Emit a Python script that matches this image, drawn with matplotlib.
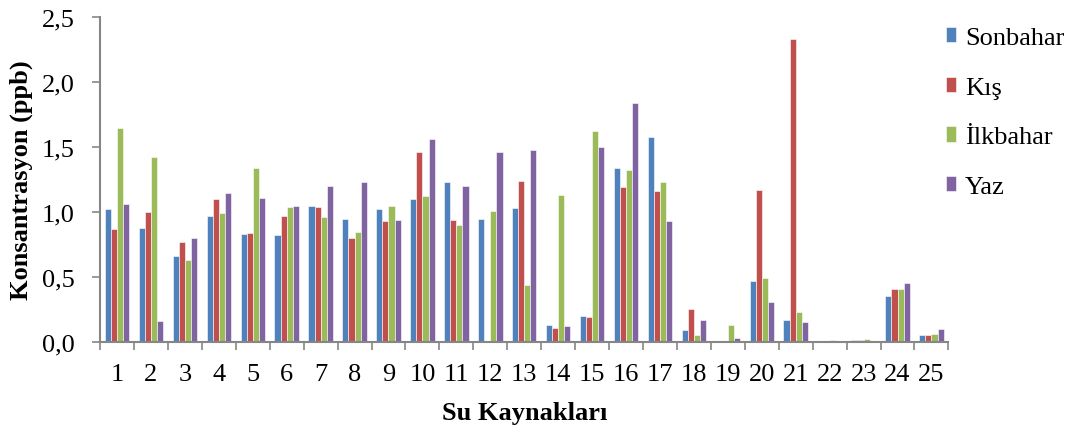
import numpy as np
import matplotlib.pyplot as plt
from matplotlib.ticker import FuncFormatter, FixedLocator

plt.rcParams['font.family'] = ['Liberation Serif', 'DejaVu Serif']

sources = [str(i) for i in range(1, 26)]
seasons = ["Sonbahar", "Kış", "İlkbahar", "Yaz"]
colors = ["#4F81BD", "#C0504D", "#9BBB59", "#8064A2"]

sonbahar = [1.02, 0.88, 0.66, 0.97, 0.83, 0.82, 1.05, 0.95, 1.02, 1.10, 1.23, 0.95, 1.03,
            0.13, 0.20, 1.34, 1.58, 0.09, 0.005, 0.47, 0.17, 0.0, 0.015, 0.35, 0.05]
kis = [0.87, 1.00, 0.77, 1.10, 0.84, 0.97, 1.04, 0.80, 0.93, 1.46, 0.94, 0.0, 1.24,
       0.11, 0.19, 1.19, 1.16, 0.25, 0.0, 1.17, 2.33, 0.008, 0.015, 0.41, 0.056]
ilkbahar = [1.65, 1.42, 0.63, 0.99, 1.34, 1.04, 0.96, 0.85, 1.05, 1.12, 0.90, 1.01, 0.44,
            1.13, 1.62, 1.32, 1.23, 0.05, 0.13, 0.49, 0.23, 0.015, 0.023, 0.41, 0.062]
yaz = [1.06, 0.16, 0.80, 1.15, 1.11, 1.05, 1.20, 1.23, 0.94, 1.56, 1.20, 1.46, 1.48,
       0.12, 1.50, 1.84, 0.93, 0.17, 0.03, 0.31, 0.15, 0.0, 0.0, 0.45, 0.10]

data = [sonbahar, kis, ilkbahar, yaz]

fig = plt.figure(figsize=(10.78, 4.35), dpi=100)
ax = fig.add_axes([0.0928, 0.2115, 0.787, 0.7471])

x = np.arange(len(sources))
w = 0.18
for i, (vals, lab, c) in enumerate(zip(data, seasons, colors)):
    ax.bar(x + (i - 1.5) * w, vals, width=w, color=c, label=lab,
           edgecolor="white", linewidth=0.4)

ax.set_xlim(-0.5, len(sources) - 0.5)
ax.set_ylim(0, 2.5)
ax.set_yticks(np.arange(0, 2.51, 0.5))
ax.yaxis.set_major_formatter(FuncFormatter(lambda v, p: f"{v:.1f}".replace(".", ",")))

ax.set_xticks(x)
ax.set_xticklabels(sources)
ax.xaxis.set_minor_locator(FixedLocator(np.arange(-0.5, len(sources), 1.0)))
ax.tick_params(axis="x", which="major", length=0, labelsize=19, pad=15)
ax.tick_params(axis="x", which="minor", length=6, width=1.2, color="#868686")
ax.tick_params(axis="y", length=6, width=1.2, color="#868686", labelsize=19, pad=12)

for s in ["top", "right"]:
    ax.spines[s].set_visible(False)
for s in ["left", "bottom"]:
    ax.spines[s].set_color("#868686")
    ax.spines[s].set_linewidth(1.5)

ax.set_ylabel("Konsantrasyon (ppb)", fontsize=19, fontweight="bold")
ax.yaxis.set_label_coords(-0.079, 0.5)
ax.set_xlabel("Su Kaynakları", fontsize=19, fontweight="bold", labelpad=12)

ax.legend(loc="upper left", bbox_to_anchor=(0.868, 0.96), bbox_transform=fig.transFigure,
          frameon=False, fontsize=19, handlelength=0.38, handleheight=0.5,
          handletextpad=0.34, labelspacing=1.05, borderaxespad=0)

fig.savefig("out.png", dpi=100)
